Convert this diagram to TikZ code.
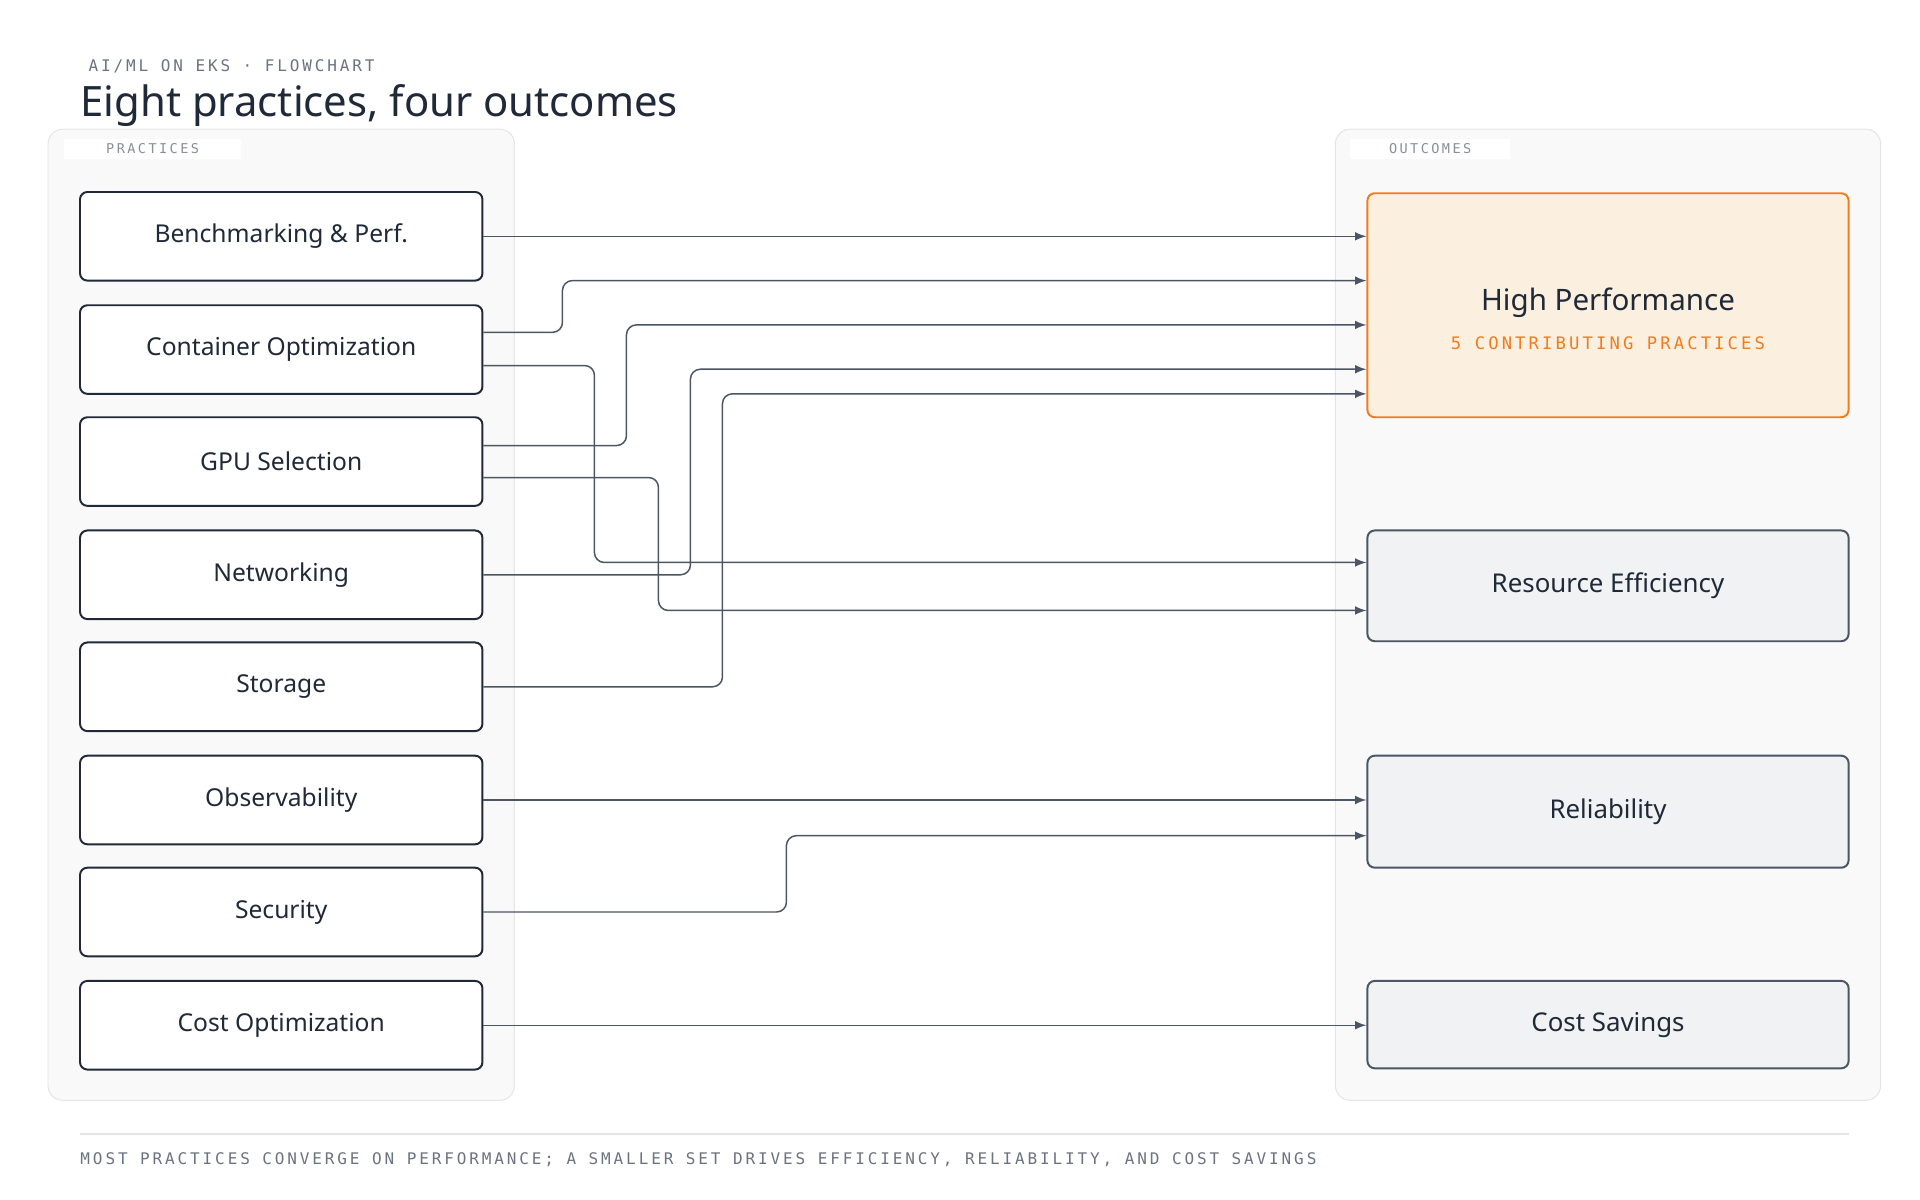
\documentclass[tikz,border=0pt]{standalone}
\usepackage{fontspec}
\setmainfont{Noto Sans}
\newfontfamily\monoface[LetterSpace=18]{DejaVu Sans Mono}
\usepackage{tikz}
\definecolor{ink}{HTML}{1F2937}
\definecolor{line}{HTML}{4B5563}
\definecolor{muted}{HTML}{6B7280}
\definecolor{panel}{HTML}{F9F9F9}
\definecolor{edge}{HTML}{E3E5E8}
\definecolor{accent}{HTML}{F07C1E}
\definecolor{warm}{HTML}{FBF0E0}
\definecolor{cool}{HTML}{F1F2F3}
\tikzset{
  practice/.style={draw=ink, thick, fill=white, rounded corners=3pt, minimum width=163.5pt, minimum height=36pt, font=\bfseries\fontsize{10}{12}\selectfont, text=ink},
  outcome/.style={draw=line, thick, fill=cool, rounded corners=3pt, minimum width=195.5pt, font=\bfseries\fontsize{10.5}{12}\selectfont, text=ink},
  link/.style={draw=line, semithick, rounded corners=4pt, -latex},
  tag/.style={font=\monoface\fontsize{5.5}{6}\selectfont, text=muted!80, fill=white, inner xsep=6pt, inner ysep=2pt}
}
\begin{document}
\begin{tikzpicture}[x=0.5pt, y=-0.5pt]
\useasboundingbox (0,0) rectangle (1560,975);

% header
\node[anchor=west, text=muted, font=\monoface\fontsize{6.5}{7}\selectfont] at (65,54) {AI/ML ON EKS · FLOWCHART};
\node[anchor=west, text=ink, inner xsep=0pt, font=\bfseries\fontsize{17}{20}\selectfont] at (65,86) {Eight practices, four outcomes};

% panels
\draw[edge, fill=panel, rounded corners=6pt] (39,105) rectangle (418,894);
\draw[edge, fill=panel, rounded corners=6pt] (1085,105) rectangle (1528,894);
\node[tag, minimum width=72pt] at (124,121) {PRACTICES};
\node[tag, minimum width=65pt] at (1162,121) {OUTCOMES};

% practices
\node[practice] (bench) at (228.5,192) {Benchmarking \& Perf.};
\node[practice] (cont) at (228.5,284) {Container Optimization};
\node[practice] (gpu) at (228.5,375) {GPU Selection};
\node[practice] (net) at (228.5,467) {Networking};
\node[practice] (stor) at (228.5,558) {Storage};
\node[practice] (obs) at (228.5,650) {Observability};
\node[practice] (sec) at (228.5,741) {Security};
\node[practice] (cost) at (228.5,833) {Cost Optimization};

% outcomes
\node[outcome, draw=accent, fill=warm, minimum height=91pt] (hp) at (1306.5,248) {};
\node[text=ink, font=\bfseries\fontsize{12}{14}\selectfont] at (1306.5,246) {High Performance};
\node[text=accent, font=\monoface\fontsize{7}{8}\selectfont] at (1306.5,279) {5 CONTRIBUTING PRACTICES};
\node[outcome, minimum height=45pt] (eff) at (1306.5,476) {Resource Efficiency};
\node[outcome, minimum height=45.5pt] (rel) at (1306.5,659.5) {Reliability};
\node[outcome, minimum height=35.5pt] (save) at (1306.5,832.5) {Cost Savings};

% connectors
\draw[link] (bench.east) -- (hp.west |- bench.east);
\draw[link] (cont.east |- 0,270) -| (457,228) -- (hp.west |- 0,228);
\draw[link] (gpu.east |- 0,362) -| (509,264) -- (hp.west |- 0,264);
\draw[link] (net.east) -| (561,300) -- (hp.west |- 0,300);
\draw[link] (stor.east) -| (587,320) -- (hp.west |- 0,320);
\draw[link] (cont.east |- 0,297) -| (483,457) -- (eff.west |- 0,457);
\draw[link] (gpu.east |- 0,388) -| (535,496) -- (eff.west |- 0,496);
\draw[link] (obs.east) -- (rel.west |- obs.east);
\draw[link] (sec.east) -| (639,679) -- (rel.west |- 0,679);
\draw[link] (cost.east) -- (save.west |- cost.east);

% footer
\draw[edge, thick] (65,921) -- (1502,921);
\node[anchor=west, inner xsep=0pt, text=muted, font=\monoface\fontsize{6.5}{7}\selectfont] at (65,942) {MOST PRACTICES CONVERGE ON PERFORMANCE; A SMALLER SET DRIVES EFFICIENCY, RELIABILITY, AND COST SAVINGS};
\end{tikzpicture}
\end{document}
